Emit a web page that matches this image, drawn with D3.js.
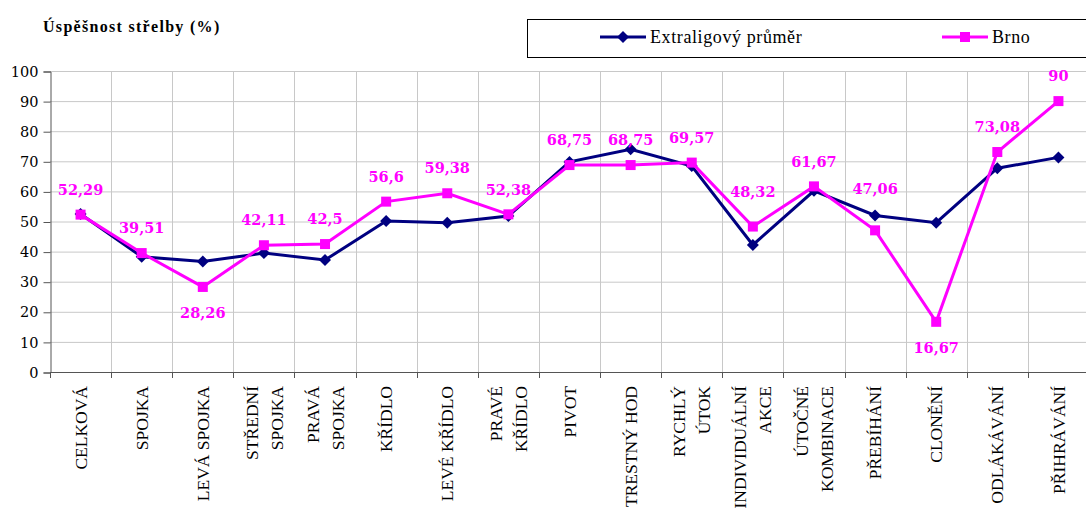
<!DOCTYPE html>
<html>
<head>
<meta charset="utf-8">
<script src="https://cdn.jsdelivr.net/npm/d3@7"></script>
<style>
  body { margin: 0; background: #fff; }
  svg { display: block; }
</style>
</head>
<body>
<div class="chart"></div>
<script>
var categories = ["CELKOVÁ", "SPOJKA", "LEVÁ SPOJKA", "STŘEDNÍ\nSPOJKA", "PRAVÁ\nSPOJKA",
	"KŘÍDLO", "LEVÉ KŘÍDLO", "PRAVÉ\nKŘÍDLO", "PIVOT", "TRESTNÝ HOD", "RYCHLÝ\nÚTOK",
	"INDIVIDUÁLNÍ\nAKCE", "ÚTOČNÉ\nKOMBINACE", "PŘEBÍHÁNÍ", "CLONĚNÍ", "ODLÁKÁVÁNÍ", "PŘIHRÁVÁNÍ"]

var extraliga = [52.5, 38.3, 36.7, 39.5, 37.2, 50.2, 49.6, 51.8, 69.8, 74.0, 68.4, 42.2, 60.2, 52.0, 49.6, 67.7, 71.3]
var brno = [52.29, 39.51, 28.26, 42.11, 42.5, 56.6, 59.38, 52.38, 68.75, 68.75, 69.57, 48.32, 61.67, 47.06, 16.67, 73.08, 90]

var yTicks = [0, 10, 20, 30, 40, 50, 60, 70, 80, 90, 100]
var seriesNames = ["Extraligový průměr", "Brno"]

var W = 1086, H = 509
var navy = "#000080", pink = "#ff00ff", grid = "#c8c8c8"
var serif = "'Liberation Serif', 'Times New Roman', serif"
// digits of Liberation Serif come out sans here, so numbers use DejaVu Serif
var numFont = "'DejaVu Serif', serif"

var svg = d3.select(".chart").append("svg")
	.attr("width", W)
	.attr("height", H)

var x = d3.scaleBand().domain(d3.range(categories.length)).range([50, 1089]).padding(0)
var y = d3.scaleLinear().domain([0, 100]).range([372, 71])

function edge(k) {
	return Math.round(x.range()[0] + k * x.bandwidth()) + 0.5
}

// gridlines
svg.append("g")
	.selectAll("line")
	.data(yTicks)
	.enter()
	.append("line")
	.attr("x1", 50).attr("x2", W)
	.attr("y1", function(d) { return y(d) + 0.5 })
	.attr("y2", function(d) { return y(d) + 0.5 })
	.attr("stroke", grid)

svg.append("g")
	.selectAll("line")
	.data(d3.range(1, categories.length + 1))
	.enter()
	.append("line")
	.attr("x1", edge)
	.attr("x2", edge)
	.attr("y1", 71).attr("y2", 372)
	.attr("stroke", grid)

// y axis
var yAxis = svg.append("g")
	.attr("transform", "translate(50.5,0.5)")
	.call(d3.axisLeft(y).tickValues(yTicks).tickSize(7).tickPadding(5))
yAxis.attr("font-family", null)
yAxis.select(".domain").attr("stroke", "#555")
yAxis.selectAll(".tick line").attr("stroke", "#555")
yAxis.selectAll("text")
	.style("font-family", numFont)
	.attr("font-size", 14.5)
	.attr("fill", "#000")

// x axis line + ticks at band boundaries
svg.append("line")
	.attr("x1", 50).attr("x2", W)
	.attr("y1", 372.5).attr("y2", 372.5)
	.attr("stroke", "#555")

svg.append("g")
	.selectAll("line")
	.data(d3.range(0, categories.length + 1))
	.enter()
	.append("line")
	.attr("x1", edge)
	.attr("x2", edge)
	.attr("y1", 372).attr("y2", 378)
	.attr("stroke", "#555")

// x labels, rotated
var xl = svg.append("g")
	.selectAll("text")
	.data(categories)
	.enter()
	.append("text")
	.attr("transform", function(d, i) {
		return "translate(" + (x(i) + x.bandwidth() / 2) + ",386) rotate(-90)"
	})
	.attr("text-anchor", "end")
	.attr("font-size", 17.5)
	.attr("fill", "#000")
	.style("font-family", serif)

xl.each(function(d) {
	var lines = d.split("\n")
	var t = d3.select(this)
	lines.forEach(function(s, k) {
		var off = (k - (lines.length - 1) / 2) * 25
		t.append("tspan")
			.attr("x", 0)
			.attr("y", off)
			.attr("dy", "0.35em")
			.text(s)
	})
})

// lines
var line = d3.line()
	.x(function(d, i) { return x(i) + x.bandwidth() / 2 })
	.y(function(d) { return y(d) })

svg.append("path")
	.datum(extraliga)
	.attr("d", line)
	.attr("fill", "none")
	.attr("stroke", navy)
	.attr("stroke-width", 3)

svg.append("g")
	.selectAll("path")
	.data(extraliga)
	.enter()
	.append("path")
	.attr("d", "M0,-6 L6,0 L0,6 L-6,0 Z")
	.attr("transform", function(d, i) {
		return "translate(" + (x(i) + x.bandwidth() / 2) + "," + y(d) + ")"
	})
	.attr("fill", navy)

svg.append("path")
	.datum(brno)
	.attr("d", line)
	.attr("fill", "none")
	.attr("stroke", pink)
	.attr("stroke-width", 3)

svg.append("g")
	.selectAll("rect")
	.data(brno)
	.enter()
	.append("rect")
	.attr("x", function(d, i) { return x(i) + x.bandwidth() / 2 - 5 })
	.attr("y", function(d) { return y(d) - 5 })
	.attr("width", 10)
	.attr("height", 10)
	.attr("fill", pink)

// data labels for Brno (two sit under the point, two are lifted higher)
var labelShift = { 2: 26, 11: -35, 13: -42, 14: 26 }
svg.append("g")
	.selectAll("text")
	.data(brno)
	.enter()
	.append("text")
	.attr("x", function(d, i) { return x(i) + x.bandwidth() / 2 })
	.attr("y", function(d, i) { return y(d) + (labelShift[i] !== undefined ? labelShift[i] : -25) })
	.attr("dy", "0.36em")
	.attr("text-anchor", "middle")
	.attr("font-size", 14.5)
	.attr("font-weight", "bold")
	.attr("fill", pink)
	.style("font-family", numFont)
	.text(function(d) { return String(d).replace(".", ",") })

// title
svg.append("text")
	.attr("x", 43)
	.attr("y", 32)
	.attr("font-size", 16)
	.attr("font-weight", "bold")
	.attr("letter-spacing", 1.3)
	.style("font-family", serif)
	.text("Úspěšnost střelby (%)")

// legend
var legend = svg.append("g")
legend.append("rect")
	.attr("x", 527.5).attr("y", 19.5)
	.attr("width", 570).attr("height", 38)
	.attr("fill", "#fff")
	.attr("stroke", "#000")

var legX = [600, 942]
legend.selectAll("g")
	.data(seriesNames)
	.enter()
	.append("g")
	.each(function(d, i) {
		var g = d3.select(this)
		var c = i == 0 ? navy : pink
		g.append("line")
			.attr("x1", legX[i]).attr("x2", legX[i] + 46)
			.attr("y1", 37).attr("y2", 37)
			.attr("stroke", c)
			.attr("stroke-width", 3)
		if (i == 0) {
			g.append("path")
				.attr("d", "M0,-6 L6,0 L0,6 L-6,0 Z")
				.attr("transform", "translate(" + (legX[i] + 23) + ",37)")
				.attr("fill", c)
		} else {
			g.append("rect")
				.attr("x", legX[i] + 18).attr("y", 32)
				.attr("width", 10).attr("height", 10)
				.attr("fill", c)
		}
		g.append("text")
			.attr("x", legX[i] + 50)
			.attr("y", 37)
			.attr("dy", "0.35em")
			.attr("font-size", 18)
			.attr("letter-spacing", 0.6)
			.style("font-family", serif)
			.text(d)
	})
</script>
</body>
</html>
